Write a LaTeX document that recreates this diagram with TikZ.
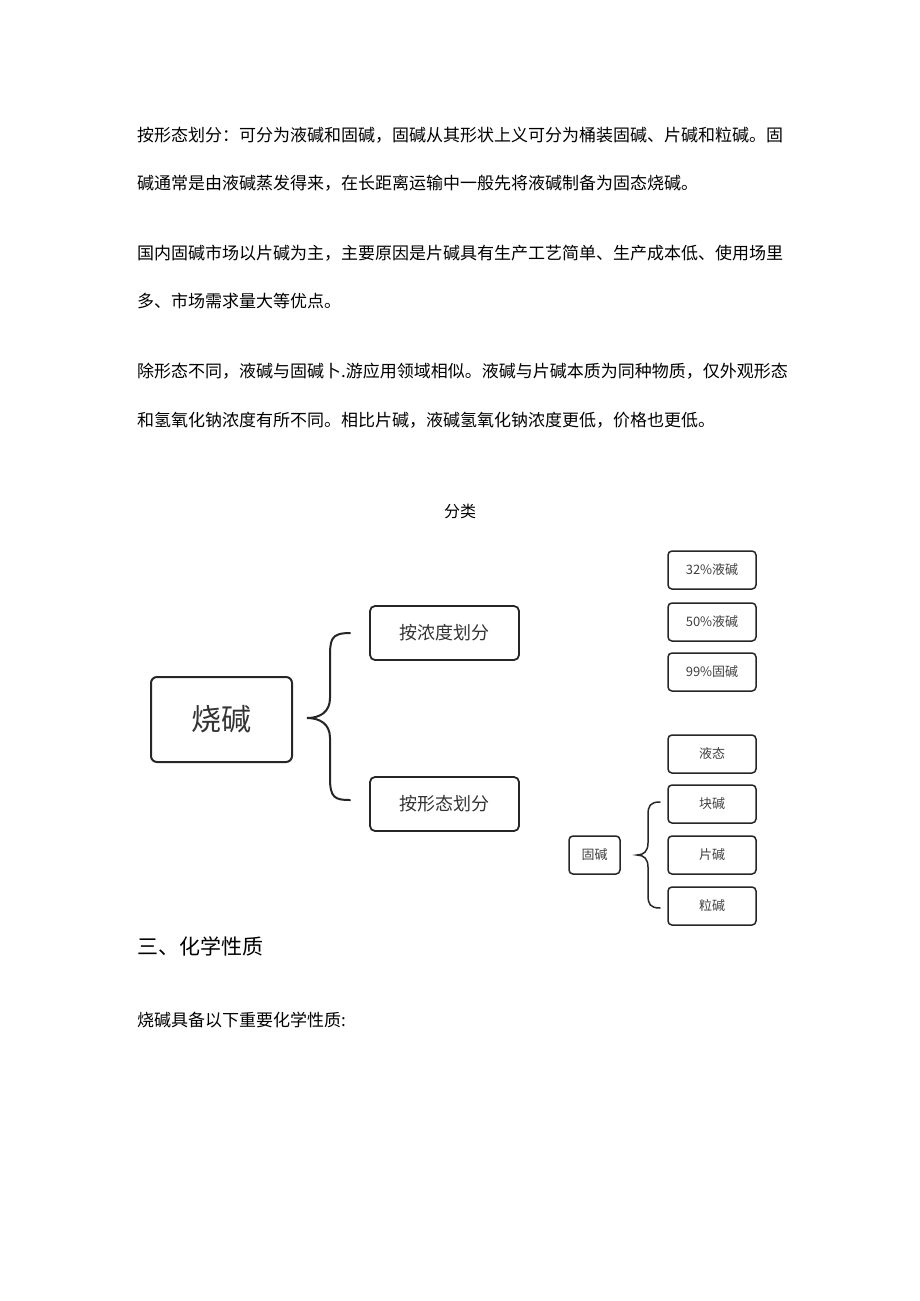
\documentclass[tikz,border=0pt]{standalone}
\usepackage{fontspec}
\setmainfont{Noto Sans CJK SC}
\newfontfamily\cjk{Noto Sans CJK SC}
\begin{document}
\begin{tikzpicture}[x=1pt,y=-1pt,
  para/.style={anchor=west,inner sep=0,font=\fontsize{17}{17}\selectfont},
  bigbox/.style={draw=black!85,line width=2pt,rounded corners=6pt,font=\fontsize{30}{30}\selectfont,text=black!80},
  midbox/.style={draw=black!85,line width=1.8pt,rounded corners=5pt,font=\fontsize{18}{18}\selectfont,text=black!80},
  smallbox/.style={draw=black!85,line width=1.5pt,rounded corners=4pt,font=\fontsize{13}{13}\selectfont,text=black!75},
  br/.style={draw=black!85,line width=2pt,line cap=round}]
\useasboundingbox (0,0) rectangle (920,1301);
\node[para] (p1) at (137,135) {按形态划分：可分为液碱和固碱，固碱从其形状上义可分为桶装固碱、片碱和粒碱。固};
\node[para] (p2) at (137,183) {碱通常是由液碱蒸发得来，在长距离运输中一般先将液碱制备为固态烧碱。};
\node[para] (p3) at (137,253) {国内固碱市场以片碱为主，主要原因是片碱具有生产工艺简单、生产成本低、使用场里};
\node[para] (p4) at (137,301) {多、市场需求量大等优点。};
\node[para] (p5) at (137,371) {除形态不同，液碱与固碱卜.游应用领域相似。液碱与片碱本质为同种物质，仅外观形态};
\node[para] (p6) at (137,420) {和氢氧化钠浓度有所不同。相比片碱，液碱氢氧化钠浓度更低，价格也更低。};
\node[font=\fontsize{16}{16}\selectfont] (t) at (460,511) {分类};
% main diagram
\node[bigbox,minimum width=141,minimum height=85] (sj) at (221.5,719.5) {烧碱};
\node[midbox,minimum width=149,minimum height=54] (nd) at (444.5,633) {按浓度划分};
\node[midbox,minimum width=149,minimum height=54] (xt) at (444.5,804) {按形态划分};
\coordinate (bt) at (350,633);
\coordinate (bb) at (350,800);
\coordinate (tip) at (307,718);
\draw[br] (bt) .. controls (330,633) and (330,640) .. (330,660) -- (330,698)
  .. controls (330,712) and (320,718) .. (tip)
  .. controls (320,718) and (330,724) .. (330,738) -- (330,778)
  .. controls (330,798) and (335,800) .. (bb);
% right
\node[smallbox,minimum width=88,minimum height=38] (a1) at (712,570) {32\%液碱};
\node[smallbox,minimum width=88,minimum height=38] (a2) at (712,622) {50\%液碱};
\node[smallbox,minimum width=88,minimum height=38] (a3) at (712,672) {99\%固碱};
\node[smallbox,minimum width=88,minimum height=38] (b1) at (712,754) {液态};
\node[smallbox,minimum width=88,minimum height=38] (b2) at (712,804) {块碱};
\node[smallbox,minimum width=88,minimum height=38] (b3) at (712,855) {片碱};
\node[smallbox,minimum width=88,minimum height=38] (b4) at (712,906) {粒碱};
\node[smallbox,minimum width=51,minimum height=38] (gj) at (594.5,855) {固碱};
\coordinate (sb1) at (660,802);
\coordinate (sb2) at (660,908);
\draw[br,line width=1.5pt] (sb1) .. controls (650,802) and (648,806) .. (648,815) -- (648,843)
  .. controls (648,851) and (644,855) .. (637,855)
  .. controls (644,855) and (648,859) .. (648,867) -- (648,895)
  .. controls (648,904) and (650,908) .. (sb2);
\node[anchor=west,inner sep=0,font=\fontsize{21}{21}\selectfont] (h) at (137,946) {三、化学性质};
\node[para] (p7) at (137,1020) {烧碱具备以下重要化学性质:};
\end{tikzpicture}
\end{document}
